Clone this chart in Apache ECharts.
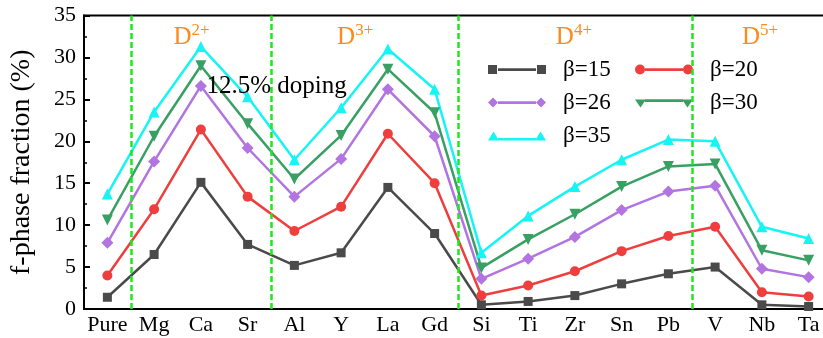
<!DOCTYPE html>
<html>
<head>
<meta charset="utf-8">
<script src="https://cdn.jsdelivr.net/npm/echarts@6/dist/echarts.min.js"></script>
<style>
  html, body { margin: 0; padding: 0; background: #fff; }
  #chart { width: 823px; height: 338px; }
</style>
</head>
<body>
<div id="chart"></div>
<script>
// dopants on the x axis
const dopants = ['Pure', 'Mg', 'Ca', 'Sr', 'Al', 'Y', 'La', 'Gd', 'Si', 'Ti', 'Zr', 'Sn', 'Pb', 'V', 'Nb', 'Ta'];

// f-phase fraction (%) for each beta
const beta15 = [1.4, 6.5, 15.1, 7.7, 5.2, 6.7, 14.5, 9.0, 0.5, 0.9, 1.6, 3.0, 4.2, 5.0, 0.5, 0.3];
const beta20 = [4.0, 11.9, 21.4, 13.4, 9.3, 12.2, 20.9, 15.0, 1.6, 2.8, 4.5, 6.9, 8.7, 9.8, 2.0, 1.5];
const beta26 = [7.9, 17.6, 26.6, 19.2, 13.4, 17.9, 26.2, 20.6, 3.6, 6.0, 8.6, 11.8, 14.0, 14.7, 4.8, 3.8];
const beta30 = [10.6, 20.6, 29.0, 22.1, 15.5, 20.7, 28.6, 23.4, 4.9, 8.3, 11.3, 14.6, 17.0, 17.3, 7.0, 5.8];
const beta35 = [13.7, 23.5, 31.3, 25.3, 17.8, 24.0, 31.0, 26.2, 6.7, 11.1, 14.6, 17.8, 20.2, 20.0, 9.8, 8.4];

// group separators (between category indices) and group labels
const separators = [0.5, 3.5, 7.5, 12.5];
const groupLabels = [
    { text: '2+', x: 1.8, y: 32.6 },
    { text: '3+', x: 5.3, y: 32.6 },
    { text: '4+', x: 9.98, y: 32.6 },
    { text: '5+', x: 13.96, y: 32.6 }
];

const serif = 'Liberation Serif';

const chart = echarts.init(document.getElementById('chart'));

function legendPath(kind) {
    // 58 x 10 box: marker, bar, marker
    const bar = ' M10 3.8 h38 v2.6 h-38 Z';
    if (kind === 'square') return 'path://M0 0.5 h9 v9 h-9 Z' + bar + ' M49 0.5 h9 v9 h-9 Z';
    if (kind === 'circle') return 'path://M0 5 a5 5 0 1 0 10 0 a5 5 0 1 0 -10 0 Z' + bar + ' M48 5 a5 5 0 1 0 10 0 a5 5 0 1 0 -10 0 Z';
    if (kind === 'diamond') return 'path://M0 5 L5 0 L10 5 L5 10 Z' + bar + ' M48 5 L53 0 L58 5 L53 10 Z';
    if (kind === 'down') return 'path://M0 2 h11 l-5.5 8 Z M10 1.8 h38 v2.6 h-38 Z M47 2 h11 l-5.5 8 Z M0 0 h0.01 v0.01 Z';
    return 'path://M0 10 L5.5 1 L11 10 Z M10 7.6 h38 v2.4 h-38 Z M47 10 L52.5 1 L58 10 Z M0 0 h0.01 v0.01 Z';
}

const legendText = {
    fontFamily: serif,
    fontSize: 23,
    color: '#000',
    rich: {
        t: { fontFamily: serif, fontSize: 23, color: '#000', padding: [0, 0, 0, 12] }
    }
};

function legendItem(name, kind) {
    return { name: name, icon: legendPath(kind), textStyle: { fontFamily: serif } };
}

function lineSeries(name, data, color, symbol, size) {
    return {
        name: name,
        type: 'line',
        data: data,
        symbol: symbol,
        symbolSize: size,
        color: color,
        lineStyle: { width: 2.5, color: color },
        itemStyle: { color: color },
        z: 3
    };
}

const option = {
    backgroundColor: '#fff',
    animation: false,
    textStyle: { fontFamily: serif },
    grid: {
        left: 84,
        right: -9,
        top: 15.5,
        bottom: 29,
        outerBoundsMode: 'none',
        show: true,
        borderColor: '#000',
        borderWidth: 2,
        backgroundColor: 'transparent'
    },
    legend: [
        {
            left: 483,
            top: 53,
            orient: 'vertical',
            itemWidth: 58,
            itemHeight: 10,
            itemGap: 10,
            textStyle: legendText,
            formatter: name => '{t|' + name + '}',
            data: [
                legendItem('β=15', 'square'),
                legendItem('β=26', 'diamond'),
                legendItem('β=35', 'up')
            ]
        },
        {
            left: 630,
            top: 53,
            orient: 'vertical',
            itemWidth: 58,
            itemHeight: 10,
            itemGap: 10,
            textStyle: legendText,
            formatter: name => '{t|' + name + '}',
            data: [
                legendItem('β=20', 'circle'),
                legendItem('β=30', 'down')
            ]
        }
    ],
    xAxis: [
        {
            type: 'category',
            data: dopants,
            boundaryGap: true,
            axisLine: { onZero: false, lineStyle: { color: '#000', width: 2 } },
            axisTick: { alignWithLabel: true, inside: true, length: 6, lineStyle: { color: '#000', width: 2 } },
            axisLabel: { fontFamily: serif, fontSize: 22, color: '#000', margin: 5, interval: 0 },
            splitLine: { show: false }
        },
        {
            // hidden helper axis for separators and annotations
            type: 'value',
            min: -0.5,
            max: 15.5,
            show: false
        }
    ],
    yAxis: {
        type: 'value',
        min: 0,
        max: 35,
        interval: 5,
        name: 'f-phase fraction (%)',
        nameLocation: 'middle',
        nameGap: 48,
        nameTextStyle: { fontFamily: serif, fontSize: 28, color: '#000' },
        axisLine: { show: true, onZero: false, lineStyle: { color: '#000', width: 2 } },
        axisTick: { inside: true, length: 6, lineStyle: { color: '#000', width: 2 } },
        minorTick: { show: true, splitNumber: 2, length: 3, lineStyle: { color: '#000', width: 1.5 } },
        axisLabel: { fontFamily: serif, fontSize: 22, color: '#000', margin: 8 },
        splitLine: { show: false }
    },
    series: [
        lineSeries('β=15', beta15, '#4a4a4a', 'rect', 9),
        lineSeries('β=20', beta20, '#ef3e3e', 'circle', 10),
        lineSeries('β=26', beta26, '#b274e0', 'diamond', 12),
        lineSeries('β=30', beta30, '#38a062', 'triangle', 11),
        lineSeries('β=35', beta35, '#16f4f4', 'triangle', 11),
        {
            name: 'annotations',
            type: 'line',
            xAxisIndex: 1,
            data: [],
            silent: true,
            z: 1,
            markLine: {
                silent: true,
                symbol: 'none',
                label: { show: false },
                lineStyle: { color: '#1de81d', width: 2.5, type: [6, 3] },
                data: separators.map(v => ({ xAxis: v }))
            },
            markPoint: {
                silent: true,
                symbolSize: 0,
                data: groupLabels.map(g => ({
                    coord: [g.x, g.y],
                    label: {
                        show: true,
                        position: 'inside',
                        formatter: '{d|D}{s|' + g.text + '}',
                        rich: {
                            d: { fontFamily: serif, fontSize: 25, color: '#ff8a1c', lineHeight: 28, verticalAlign: 'bottom' },
                            s: { fontFamily: serif, fontSize: 17, color: '#ff8a1c', verticalAlign: 'top', lineHeight: 28, padding: [0, 0, 10, 0] }
                        }
                    }
                })).concat([{
                    coord: [3.62, 26.6],
                    label: {
                        show: true,
                        position: 'inside',
                        formatter: '12.5% doping',
                        fontFamily: serif,
                        fontSize: 25,
                        color: '#000'
                    }
                }])
            }
        }
    ]
};

// down-pointing triangle for beta=30
option.series[3].symbolRotate = 180;

option && chart.setOption(option);
</script>
</body>
</html>
